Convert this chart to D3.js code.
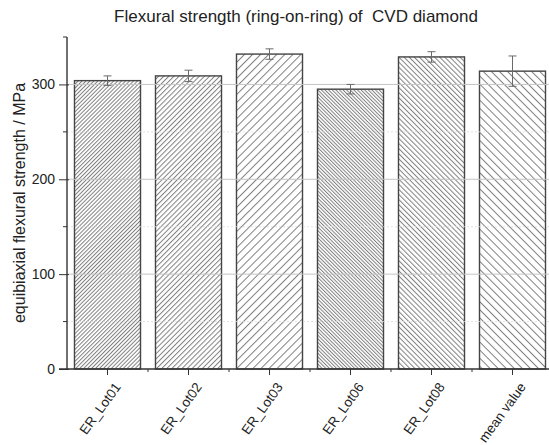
<!DOCTYPE html>
<html>
<head>
<meta charset="utf-8">
<script src="https://cdn.jsdelivr.net/npm/d3@7"></script>
<style>
  body { margin: 0; background: #fff; }
  svg { font-family: "Liberation Sans", Arial, sans-serif; }
</style>
</head>
<body>
<div id="chart"></div>
<script>
const categories = ["ER_Lot01", "ER_Lot02", "ER_Lot03", "ER_Lot06", "ER_Lot08", "mean value"];
const strength = [304, 309, 332, 295, 329, 314];
const errors = [5, 6, 5.5, 5, 5.5, 16];
const yTicks = [0, 100, 200, 300];
const yMinorTicks = [50, 150, 250, 350];
// hatch: direction and line gap for each bar
const hatchDir = [1, 1, 1, -1, -1, -1];
const hatchGap = [2.8, 3.6, 5.7, 2.55, 3.6, 5.7];

const width = 549, height = 445;
const margin = { top: 37, right: -4, bottom: 76, left: 67 };

const svg = d3
  .select("#chart")
  .append("svg")
  .attr("width", width)
  .attr("height", height);

// hatch patterns
const defs = svg.append("defs");
categories.forEach((c, i) => {
  const s = hatchGap[i];
  defs
    .append("pattern")
    .attr("id", "hatch" + i)
    .attr("patternUnits", "userSpaceOnUse")
    .attr("width", s)
    .attr("height", s)
    .attr("patternTransform", `rotate(${hatchDir[i] * 45})`)
    .append("line")
    .attr("x1", 0.5)
    .attr("y1", -1)
    .attr("x2", 0.5)
    .attr("y2", s + 1)
    .attr("stroke", "#808080")
    .attr("stroke-width", 1);
});

const x = d3
  .scaleBand()
  .domain(categories)
  .range([margin.left, width - margin.right])
  .paddingInner(0.185)
  .paddingOuter(0.0925);

const y = d3
  .scaleLinear()
  .domain([0, 350])
  .range([height - margin.bottom, margin.top]);

// bars
svg
  .selectAll(".bar")
  .data(categories)
  .join("rect")
  .attr("class", "bar")
  .attr("x", (d) => x(d))
  .attr("y", (d, i) => y(strength[i]))
  .attr("width", x.bandwidth())
  .attr("height", (d, i) => y(0) - y(strength[i]))
  .attr("fill", (d, i) => `url(#hatch${i})`)
  .attr("stroke", "#444")
  .attr("stroke-width", 1.4);

// grid lines, drawn over the bars like in the original
svg
  .append("g")
  .selectAll("line")
  .data(yTicks.slice(1))
  .join("line")
  .attr("x1", margin.left)
  .attr("x2", width)
  .attr("y1", (d) => y(d))
  .attr("y2", (d) => y(d))
  .attr("stroke", "#c4c4c4")
  .attr("stroke-width", 1);
svg
  .append("g")
  .selectAll("line")
  .data(yMinorTicks.slice(0, 3))
  .join("line")
  .attr("x1", margin.left)
  .attr("x2", width)
  .attr("y1", (d) => y(d))
  .attr("y2", (d) => y(d))
  .attr("stroke", "#dcdcdc")
  .attr("stroke-width", 0.8)
  .attr("stroke-dasharray", "2,2");

// error bars
const eb = svg.append("g").attr("stroke", "#6a6a6a").attr("stroke-width", 1);
categories.forEach((c, i) => {
  const cx = x(c) + x.bandwidth() / 2;
  const top = y(strength[i] + errors[i]);
  const bot = y(strength[i] - errors[i]);
  eb.append("line").attr("x1", cx).attr("x2", cx).attr("y1", top).attr("y2", bot);
  eb.append("line").attr("x1", cx - 4).attr("x2", cx + 4).attr("y1", top).attr("y2", top);
  eb.append("line").attr("x1", cx - 4).attr("x2", cx + 4).attr("y1", bot).attr("y2", bot);
});

// y axis
const yAxis = svg
  .append("g")
  .attr("transform", `translate(${margin.left},0)`)
  .call(d3.axisLeft(y).tickValues(yTicks).tickSize(8).tickPadding(4));
yAxis.selectAll("text").style("font-size", "14px").attr("fill", "#222");
yAxis.select(".domain").attr("d", `M0,${y(350)}V${y(0)}`).attr("stroke", "#333").attr("stroke-width", 1.4);
yAxis.selectAll(".tick line").attr("stroke", "#333").attr("x2", -8).attr("x1", 2);
svg
  .append("g")
  .selectAll("line")
  .data(yMinorTicks)
  .join("line")
  .attr("x1", margin.left - 4)
  .attr("x2", margin.left)
  .attr("y1", (d) => y(d))
  .attr("y2", (d) => y(d))
  .attr("stroke", "#333");

// x axis
const xAxis = svg
  .append("g")
  .attr("transform", `translate(0,${y(0)})`)
  .call(d3.axisBottom(x).tickSize(6).tickSizeOuter(0).tickFormat(""));
xAxis.select(".domain").attr("d", `M${margin.left - 8},0H${width}`).attr("stroke", "#333").attr("stroke-width", 1.4);
xAxis.selectAll(".tick line").attr("stroke", "#333");
svg
  .append("g")
  .selectAll("line")
  .data(categories.slice(1))
  .join("line")
  .attr("x1", (d) => x(d) - (x.step() * x.paddingInner()) / 2)
  .attr("x2", (d) => x(d) - (x.step() * x.paddingInner()) / 2)
  .attr("y1", y(0))
  .attr("y2", y(0) + 3)
  .attr("stroke", "#333");

// rotated category labels
svg
  .append("g")
  .selectAll("text")
  .data(categories)
  .join("text")
  .attr("transform", (d) => `translate(${x(d) + x.bandwidth() / 2 + 14},${y(0) + 18}) rotate(-54)`)
  .attr("text-anchor", "end")
  .style("font-size", "13.5px")
  .attr("fill", "#222")
  .text((d) => d);

// axis title
svg
  .append("text")
  .attr("transform", `translate(25,${(y(0) + y(350)) / 2}) rotate(-90)`)
  .attr("text-anchor", "middle")
  .style("font-size", "16px")
  .attr("fill", "#222")
  .text("equibiaxial flexural strength / MPa");

// chart title
svg
  .append("text")
  .attr("x", 296)
  .attr("y", 22)
  .attr("text-anchor", "middle")
  .style("font-size", "17px")
  .attr("fill", "#222")
  .style("white-space", "pre")
  .text("Flexural strength (ring-on-ring) of  CVD diamond");
</script>
</body>
</html>
